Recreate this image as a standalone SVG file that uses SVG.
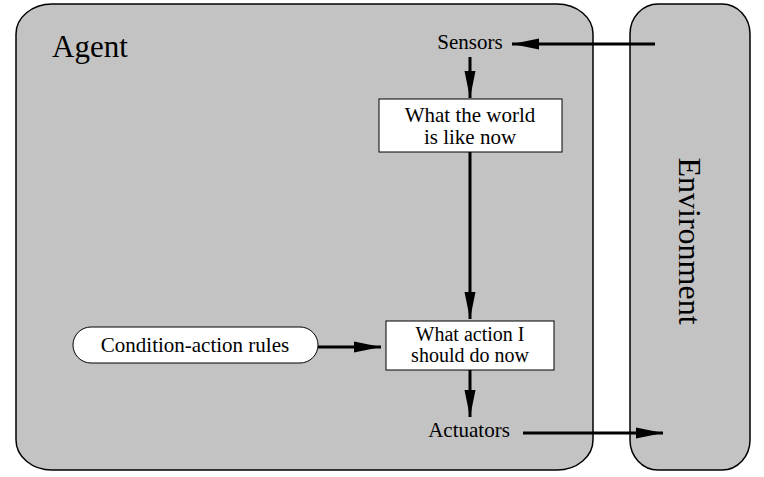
<svg xmlns="http://www.w3.org/2000/svg" width="764" height="477" viewBox="0 0 764 477">
<defs>
<style>
.panel{fill:#c3c3c3;stroke:#000;stroke-width:1.5}
.box{fill:#fff;stroke:#000;stroke-width:1}
.t{font-family:"Liberation Serif","Times New Roman",serif;font-size:21px;fill:#000;text-anchor:middle}
.s{font-size:20px}
.big{font-family:"Liberation Serif","Times New Roman",serif;font-size:31px;fill:#000}
.arr{stroke:#000;stroke-width:3;fill:none;marker-end:url(#ah)}
</style>
<marker id="ah" markerUnits="userSpaceOnUse" markerWidth="28" markerHeight="12" refX="27" refY="6" orient="auto">
<path d="M0,0.5 L27,6 L0,11.5 z" fill="#000"/>
</marker>
</defs>
<g id="agent">
<rect class="panel" x="16" y="4" width="577" height="466" rx="36" ry="30"/>
<text class="big" x="52" y="57">Agent</text>
</g>
<g id="environment">
<rect class="panel" x="630" y="4" width="120" height="466" rx="28" ry="30"/>
<text class="big" style="font-size:32px;text-anchor:middle" transform="translate(679,241) rotate(90)">Environment</text>
</g>
<g id="sensors">
<text class="t" x="470" y="49">Sensors</text>
</g>
<g id="world">
<rect class="box" x="379" y="99" width="183" height="53"/>
<text class="t" x="470" y="122">What the world</text>
<text class="t" x="470" y="144">is like now</text>
</g>
<g id="rules">
<rect class="box" x="73" y="327" width="245" height="36" rx="18" ry="18"/>
<text class="t" x="195" y="352">Condition-action rules</text>
</g>
<g id="action">
<rect class="box" x="386" y="321" width="168" height="49"/>
<text class="t s" x="470" y="341">What action I</text>
<text class="t s" x="470" y="362">should do now</text>
</g>
<g id="actuators">
<text class="t" x="469" y="437">Actuators</text>
</g>
<g id="connectors">
<line class="arr" x1="655" y1="44" x2="512" y2="44"/>
<line class="arr" x1="470" y1="57" x2="470" y2="98"/>
<line class="arr" x1="470" y1="152" x2="470" y2="319"/>
<line class="arr" x1="318" y1="347" x2="381" y2="347"/>
<line class="arr" x1="470" y1="370" x2="470" y2="417"/>
<line class="arr" x1="523" y1="433" x2="663" y2="433"/>
</g>
</svg>
